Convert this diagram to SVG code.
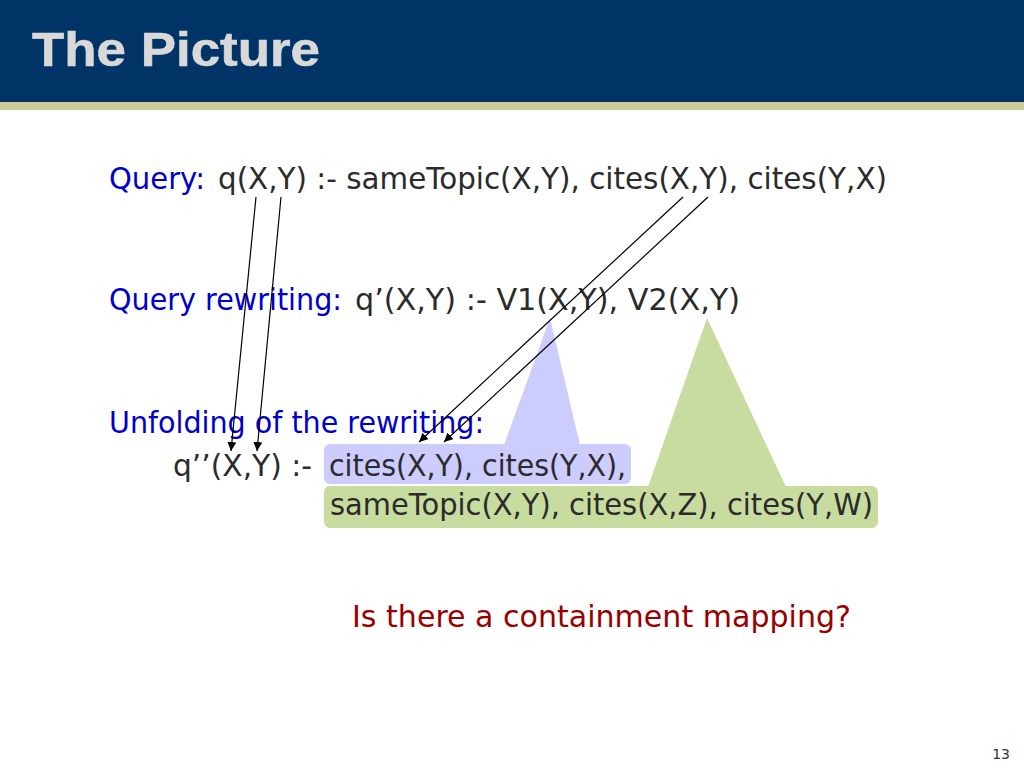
<svg xmlns="http://www.w3.org/2000/svg" width="1024" height="768" viewBox="0 0 1024 768">
<defs>
<style>
.t{font-family:"DejaVu Sans",Verdana,sans-serif;font-size:30px;}
.blue{fill:#0000CC;}
.dark{fill:#2B2B2B;}
.red{font-family:"DejaVu Sans Condensed","DejaVu Sans",Tahoma,sans-serif;font-size:31px;fill:#990000;}
.title{font-family:"Liberation Sans",Arial,sans-serif;font-weight:bold;font-size:48px;fill:#D9D9D9;stroke:#D9D9D9;stroke-width:0.6;}
.arr{stroke:#000;stroke-width:1.2;fill:none;marker-end:url(#ah);}
</style>
<marker id="ah" viewBox="0 0 10 10" refX="10" refY="5" markerWidth="9" markerHeight="9" markerUnits="userSpaceOnUse" orient="auto">
<path d="M0,0 L10,5 L0,10 z" fill="#000"/>
</marker>
</defs>
<rect width="1024" height="768" fill="#FFFFFF"/>
<g id="header">
<rect x="0" y="0" width="1024" height="102" fill="#003366"/>
<rect x="0" y="102" width="1024" height="8" fill="#CCCC99"/>
<text class="title" x="32" y="66" textLength="288" lengthAdjust="spacingAndGlyphs">The Picture</text>
</g>
<g id="query">
<text class="t blue" x="109" y="189" textLength="96" lengthAdjust="spacingAndGlyphs">Query:</text>
<text class="t dark" x="218" y="189" textLength="669" lengthAdjust="spacingAndGlyphs">q(X,Y) :- sameTopic(X,Y), cites(X,Y), cites(Y,X)</text>
</g>
<g id="rewriting">
<text class="t blue" x="109" y="310" textLength="233" lengthAdjust="spacingAndGlyphs">Query rewriting:</text>
<text class="t dark" x="355" y="310" textLength="385" lengthAdjust="spacingAndGlyphs">q’(X,Y) :- V1(X,Y), V2(X,Y)</text>
</g>
<g id="view1">
<polygon points="550,318 504,445 580,445" fill="#CCCCFF"/>
<rect x="324" y="444" width="307" height="40" rx="6" fill="#CCCCFF"/>
</g>
<g id="view2">
<polygon points="707,318 648,487 786,487" fill="#C8DCA0"/>
<rect x="324" y="486" width="554" height="42" rx="6" fill="#C8DCA0"/>
</g>
<g id="unfolding">
<text class="t blue" x="109" y="433" textLength="375" lengthAdjust="spacingAndGlyphs">Unfolding of the rewriting:</text>
<text class="t dark" x="173" y="476" textLength="139" lengthAdjust="spacingAndGlyphs">q’’(X,Y) :-</text>
<text class="t dark" x="329" y="476" textLength="297" lengthAdjust="spacingAndGlyphs">cites(X,Y), cites(Y,X),</text>
<text class="t dark" x="330" y="515" textLength="543" lengthAdjust="spacingAndGlyphs">sameTopic(X,Y), cites(X,Z), cites(Y,W)</text>
</g>
<g id="question">
<text class="red" x="352" y="627" textLength="499" lengthAdjust="spacingAndGlyphs">Is there a containment mapping?</text>
</g>
<g id="connectors">
<line class="arr" x1="256" y1="197" x2="231" y2="451"/>
<line class="arr" x1="281" y1="197" x2="257" y2="451"/>
<line class="arr" x1="683" y1="197" x2="419" y2="442"/>
<line class="arr" x1="708" y1="197" x2="444" y2="442"/>
</g>
<g id="pagenum">
<text x="1010" y="759" text-anchor="end" style="font-family:'DejaVu Sans',Verdana,sans-serif;font-size:14px;fill:#333333;">13</text>
</g>
</svg>
